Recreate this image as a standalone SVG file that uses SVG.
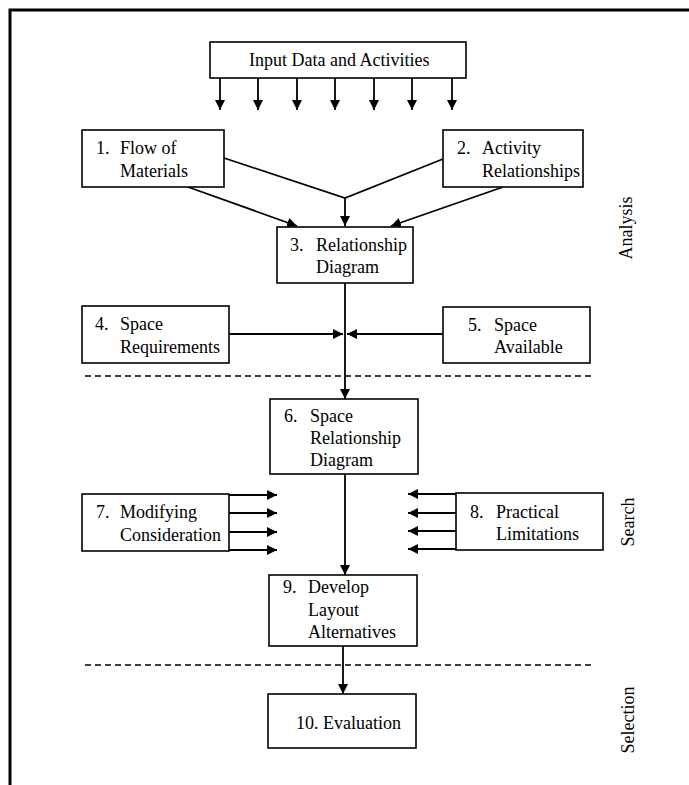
<svg xmlns="http://www.w3.org/2000/svg" width="689" height="785" viewBox="0 0 689 785">
<defs>
<style>
.box{fill:#fff;stroke:#000;stroke-width:1.6}
.ln{fill:none;stroke:#000;stroke-width:1.8}
.dash{fill:none;stroke:#000;stroke-width:1.4;stroke-dasharray:6 4}
text{font-family:"Liberation Serif","Times New Roman",serif;font-size:18px;fill:#000}
</style>
<marker id="ah" viewBox="0 0 10 10" refX="10" refY="5" markerWidth="10" markerHeight="10" markerUnits="userSpaceOnUse" orient="auto">
<path d="M0,0 L10,5 L0,10 Z" fill="#000"/>
</marker>
</defs>
<rect width="689" height="785" fill="#fff"/>
<path d="M10,785 V10 H689" fill="none" stroke="#000" stroke-width="3"/>

<g id="connectors">
<line class="ln" x1="220" y1="78" x2="220" y2="110" marker-end="url(#ah)"/>
<line class="ln" x1="258" y1="78" x2="258" y2="110" marker-end="url(#ah)"/>
<line class="ln" x1="297" y1="78" x2="297" y2="110" marker-end="url(#ah)"/>
<line class="ln" x1="335" y1="78" x2="335" y2="110" marker-end="url(#ah)"/>
<line class="ln" x1="374" y1="78" x2="374" y2="110" marker-end="url(#ah)"/>
<line class="ln" x1="412" y1="78" x2="412" y2="110" marker-end="url(#ah)"/>
<line class="ln" x1="452" y1="78" x2="452" y2="110" marker-end="url(#ah)"/>
<polyline class="ln" points="224,158 345,198 443,159"/>
<line class="ln" x1="345" y1="198" x2="345" y2="226" marker-end="url(#ah)"/>
<line class="ln" x1="188" y1="187" x2="297" y2="226" marker-end="url(#ah)"/>
<line class="ln" x1="503" y1="187" x2="391" y2="226" marker-end="url(#ah)"/>
<line class="ln" x1="345" y1="283" x2="345" y2="399" marker-end="url(#ah)"/>
<line class="ln" x1="229" y1="334" x2="343" y2="334" marker-end="url(#ah)"/>
<line class="ln" x1="443" y1="334" x2="347" y2="334" marker-end="url(#ah)"/>
<line class="ln" x1="229" y1="495" x2="277" y2="495" marker-end="url(#ah)"/>
<line class="ln" x1="229" y1="513" x2="277" y2="513" marker-end="url(#ah)"/>
<line class="ln" x1="229" y1="532" x2="277" y2="532" marker-end="url(#ah)"/>
<line class="ln" x1="229" y1="550" x2="277" y2="550" marker-end="url(#ah)"/>
<line class="ln" x1="456" y1="494" x2="408" y2="494" marker-end="url(#ah)"/>
<line class="ln" x1="456" y1="513" x2="408" y2="513" marker-end="url(#ah)"/>
<line class="ln" x1="456" y1="531" x2="408" y2="531" marker-end="url(#ah)"/>
<line class="ln" x1="456" y1="549" x2="408" y2="549" marker-end="url(#ah)"/>
<line class="ln" x1="345" y1="474" x2="345" y2="575" marker-end="url(#ah)"/>
<line class="ln" x1="343" y1="646" x2="343" y2="694" marker-end="url(#ah)"/>
</g>

<g id="separators">
<line class="dash" x1="85" y1="376" x2="592" y2="376"/>
<line class="dash" x1="85" y1="665" x2="592" y2="665"/>
</g>

<g id="n0"><rect class="box" x="210" y="42" width="256" height="36"/><text x="249" y="66">Input Data and Activities</text></g>
<g id="n1"><rect class="box" x="82" y="130" width="142" height="57"/><text x="96" y="154">1.</text><text x="120" y="154">Flow of</text><text x="120" y="177">Materials</text></g>
<g id="n2"><rect class="box" x="443" y="130" width="140" height="57"/><text x="457" y="154">2.</text><text x="482" y="154">Activity</text><text x="482" y="177">Relationships</text></g>
<g id="n3"><rect class="box" x="277" y="227" width="136" height="56"/><text x="290" y="251">3.</text><text x="316" y="251">Relationship</text><text x="316" y="273">Diagram</text></g>
<g id="n4"><rect class="box" x="82" y="306" width="147" height="57"/><text x="95" y="330">4.</text><text x="120" y="330">Space</text><text x="120" y="353">Requirements</text></g>
<g id="n5"><rect class="box" x="443" y="307" width="147" height="56"/><text x="468" y="331">5.</text><text x="494" y="331">Space</text><text x="494" y="353">Available</text></g>
<g id="n6"><rect class="box" x="270" y="399" width="148" height="75"/><text x="284" y="422">6.</text><text x="310" y="422">Space</text><text x="310" y="444">Relationship</text><text x="310" y="466">Diagram</text></g>
<g id="n7"><rect class="box" x="82" y="494" width="147" height="57"/><text x="96" y="518">7.</text><text x="120" y="518">Modifying</text><text x="120" y="541">Consideration</text></g>
<g id="n8"><rect class="box" x="456" y="493" width="147" height="57"/><text x="470" y="518">8.</text><text x="496" y="518">Practical</text><text x="496" y="540">Limitations</text></g>
<g id="n9"><rect class="box" x="269" y="575" width="148" height="71"/><text x="283" y="593">9.</text><text x="308" y="593">Develop</text><text x="308" y="616">Layout</text><text x="308" y="638">Alternatives</text></g>
<g id="n10"><rect class="box" x="268" y="694" width="148" height="54"/><text x="296" y="729">10. Evaluation</text></g>

<g id="labels">
<text transform="translate(632,228) rotate(-90)" text-anchor="middle">Analysis</text>
<text transform="translate(634,522) rotate(-90)" text-anchor="middle">Search</text>
<text transform="translate(634,720) rotate(-90)" text-anchor="middle">Selection</text>
</g>
</svg>
